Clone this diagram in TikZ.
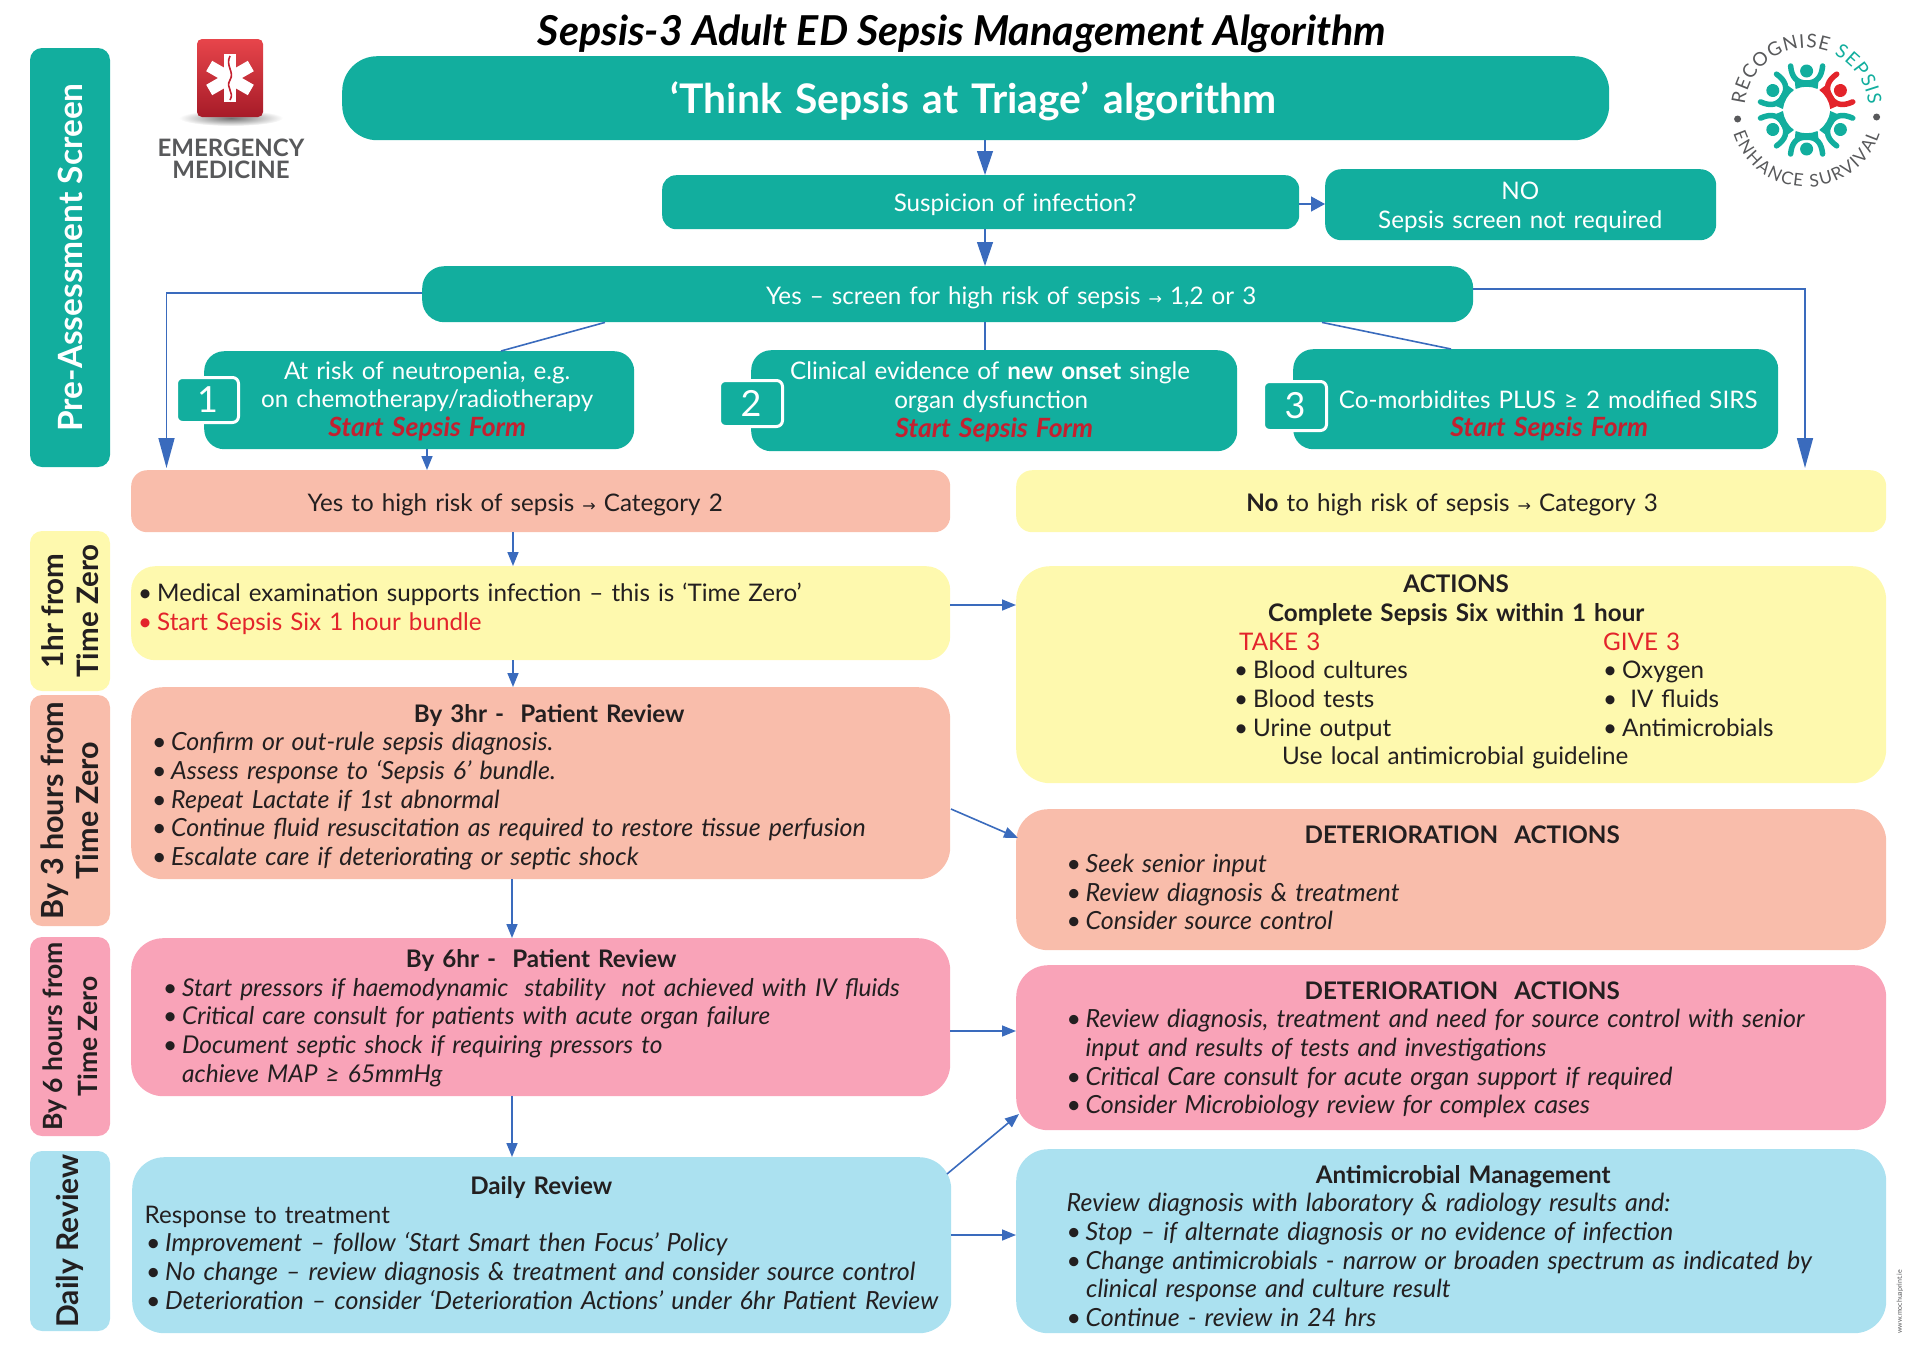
\documentclass[tikz,border=0pt]{standalone}
\usepackage{fontspec}
\setmainfont{Lato}
\newfontfamily\dvfont{DejaVu Sans}
\usetikzlibrary{arrows.meta,decorations.text,shapes.geometric}
\definecolor{sxteal}{HTML}{12AE9E}
\definecolor{sxsalmon}{HTML}{F9BDAB}
\definecolor{sxyellow}{HTML}{FEF9AE}
\definecolor{sxpink}{HTML}{F9A3B8}
\definecolor{sxblue}{HTML}{ABE1F0}
\definecolor{sxarrow}{HTML}{3A6BBD}
\definecolor{sxred}{HTML}{E3242B}
\definecolor{sxdred}{HTML}{C4202F}
\definecolor{sxink}{HTML}{231F20}
\definecolor{sxgray}{HTML}{58595B}
\newcommand\sxbody{\fontsize{24.2}{28.7}\selectfont}
\newcommand\sxit{\itshape\fontsize{25}{28.7}\selectfont}
\newcommand\sxitn{\itshape\fontsize{24.5}{28.7}\selectfont}
\newcommand\sxC[2]{\hspace*{#1pt}\makebox[0pt][c]{#2}}
\newcommand\sxL[2]{\hspace*{#1pt}\makebox[0pt][l]{#2}}
\newcommand\sxB[2]{\hspace*{#1pt}\makebox[0pt][l]{\makebox[19pt][l]{•}#2}}
\newcommand\sxto{{\dvfont\fontsize{16}{16}\selectfont→}}
\newcommand\sxup[1]{\par\vspace{#1pt}}
\newcommand\sxD[1]{\rule{0pt}{.72em}\\[\dimexpr 2\dimexpr #1pt\relax-\baselineskip\relax]}
\newcommand\sxform{{\bfseries\itshape\fontsize{26.5}{28.7}\selectfont\color{sxdred}Start Sepsis Form}}
\tikzset{
  tbox/.style={anchor=north west,inner sep=0pt,align=left,font=\sxbody,text=sxink},
  tealbox/.style={tbox,fill=sxteal,text=white},
  strip/.style={rotate=90,inner sep=0pt,align=center,font=\bfseries\fontsize{30}{35}\selectfont,text=sxink,rounded corners=12pt},
  tagbox/.style={fill=sxteal,draw=white,line width=3pt,rounded corners=6pt,text=white,inner sep=0pt,font=\fontsize{36}{36}\selectfont},
  arr/.style={draw=sxarrow,line width=1.6pt,-{Triangle[length=14pt,width=11pt]}},
  bigarr/.style={draw=sxarrow,line width=1.6pt,-{Triangle[length=30pt,width=16pt]}},
  medarr/.style={draw=sxarrow,line width=1.2pt,-{Triangle[length=24pt,width=16pt]}},
  plain/.style={draw=sxarrow,line width=1.6pt},
}
\newcommand\BX[7]{%
  \pgfmathsetmacro\bw{#5-#3}\pgfmathsetmacro\bh{#6-#4}%
  \node[#1,text width=\bw pt,minimum width=\bw pt,minimum height=\bh pt] (#2) at (#3,#4) {#7};}
\newcommand\STRIP[7]{%
  \pgfmathsetmacro\bw{#5-#3}\pgfmathsetmacro\bh{#6-#4}%
  \pgfmathsetmacro\bx{(#5+#3)/2}\pgfmathsetmacro\by{(#6+#4)/2}%
  \node[strip,#1,minimum width=\bh pt,minimum height=\bw pt] (#2) at (\bx,\by) {#7};}
\begin{document}
\begin{tikzpicture}[x=1pt,y=-1pt]
\useasboundingbox (0,0) rectangle (1920,1358);
% title
\node[inner sep=0pt,font=\bfseries\itshape\fontsize{41.2}{41}\selectfont,text=black] (title) at (962,34) {Sepsis-3 Adult ED Sepsis Management Algorithm};
% side strips
\STRIP{fill=sxteal,text=white,font=\bfseries\fontsize{33.4}{33}\selectfont}{sPre}{30}{48}{110}{467}{Pre-Assessment Screen}
\STRIP{fill=sxyellow,font=\bfseries\fontsize{29.5}{35}\selectfont}{sOne}{30}{531}{110}{691}{1hr from\\Time Zero}
\STRIP{fill=sxsalmon,font=\bfseries\fontsize{30.5}{35}\selectfont}{sThree}{30}{695}{110}{926}{By 3 hours from\\Time Zero}
\STRIP{fill=sxpink,font=\bfseries\fontsize{26.5}{35}\selectfont}{sSix}{30}{937}{110}{1136}{By 6 hours from\\Time Zero}
\STRIP{fill=sxblue,font=\bfseries\fontsize{30}{35}\selectfont}{sDaily}{30}{1151}{110}{1331}{Daily Review}
% teal flow
\BX{tealbox,rounded corners=35pt,font=\bfseries\fontsize{40.8}{41}\selectfont}{top}{342}{56}{1609}{140}{\sxD{4.5}\sxC{631.5}{‘Think Sepsis at Triage’ algorithm}}
\BX{tealbox,rounded corners=14pt}{sus}{662}{175}{1299}{229}{\sxD{2.4}\sxC{353}{Suspicion of infection?}}
\BX{tealbox,rounded corners=16pt}{no}{1325}{169}{1716}{240}{\sxD{2.4}\sxC{195}{NO}\\\sxC{195}{Sepsis screen not required}}
\BX{tealbox,rounded corners=22pt}{yes}{422}{266}{1473}{322}{\sxD{3.7}\sxC{589}{Yes – screen for high risk of sepsis \sxto{} 1,2 or 3}}
\BX{tealbox,rounded corners=20pt}{riskA}{204}{351}{634}{449}{\sxD{1.2}\sxC{223}{At risk of neutropenia, e.g.}\\\sxC{223}{on chemotherapy/radiotherapy}\\\sxC{223}{\sxform}}
\BX{tealbox,rounded corners=20pt}{riskB}{751}{350}{1237}{451}{\sxD{1.2}\sxC{239}{Clinical evidence of \textbf{new onset} single}\\\sxC{240}{organ dysfunction}\\\sxC{243}{\sxform}}
\BX{tealbox,rounded corners=20pt}{riskC}{1293}{349}{1778}{449}{\sxD{16.8}\sxC{255}{Co-morbidites PLUS ≥ 2 modified SIRS}\\\sxC{256}{\sxform}}
\node[tagbox,minimum width=62pt,minimum height=45pt,anchor=north west] (tagA) at (175,376) {1};
\node[tagbox,minimum width=63pt,minimum height=46pt,anchor=north west] (tagB) at (718,379) {2};
\node[tagbox,minimum width=63pt,minimum height=49pt,anchor=north west] (tagC) at (1262,380) {3};
% categories
\BX{tbox,fill=sxsalmon,rounded corners=16pt}{catTwo}{131}{470}{950}{532}{\sxD{3.7}\sxC{384}{Yes to high risk of sepsis \sxto{} Category 2}}
\BX{tbox,fill=sxyellow,rounded corners=16pt}{catThree}{1016}{470}{1886}{532}{\sxD{3.7}\sxC{436}{\textbf{No} to high risk of sepsis \sxto{} Category 3}}
% left column
\BX{tbox,fill=sxyellow,rounded corners=24pt}{oneHr}{131}{566}{950}{660}{\sxB{7}{Medical examination supports infection – this is ‘Time Zero’}\\{\color{sxred}\sxB{7}{Start Sepsis Six 1 hour bundle}}\sxup{8.6}}
\BX{tbox,fill=sxsalmon,rounded corners=32pt}{threeHr}{131}{687}{950}{879}{\sxD{4.2}\sxC{418}{\textbf{By 3hr -~~Patient Review}}\\\sxit\sxB{21}{Confirm or out-rule sepsis diagnosis.}\\\sxB{21}{Assess response to ‘Sepsis 6’ bundle.}\\\sxB{21}{Repeat Lactate if 1st abnormal}\\\sxB{21}{Continue fluid resuscitation as required to restore tissue perfusion}\\\sxB{21}{Escalate care if deteriorating or septic shock}}
\BX{tbox,fill=sxpink,rounded corners=32pt}{sixHr}{131}{938}{950}{1096}{\sxD{1.2}\sxC{410}{\textbf{By 6hr -~~Patient Review}}\\\sxitn\sxB{32}{Start pressors if haemodynamic~~stability~~not achieved with IV fluids}\\\sxB{32}{Critical care consult for patients with acute organ failure}\\\sxB{32}{Document septic shock if requiring pressors to}\\\sxL{51}{achieve MAP ≥ 65mmHg}}
\BX{tbox,fill=sxblue,rounded corners=32pt}{daily}{132}{1157}{951}{1333}{\sxC{409}{\textbf{Daily Review}}\\\sxL{12.5}{Response to treatment}\\\sxit\sxB{14}{Improvement – follow ‘Start Smart then Focus’ Policy}\\\sxB{14}{No change – review diagnosis \& treatment and consider source control}\\\sxB{14}{Deterioration – consider ‘Deterioration Actions’ under 6hr Patient Review}\sxup{4.8}}
% right column
\BX{tbox,fill=sxyellow,rounded corners=34pt}{actions}{1016}{566}{1886}{783}{\sxC{440}{\textbf{ACTIONS}}\\\sxC{440}{\textbf{Complete Sepsis Six within 1 hour}}\\{\color{sxred}\sxL{223}{TAKE 3}\sxL{364}{GIVE 3}}\\\sxB{218}{Blood cultures}\sxB{369}{Oxygen}\\\sxB{218}{Blood tests}\sxB{369}{~IV fluids}\\\sxB{218}{Urine output}\sxB{369}{Antimicrobials}\\\sxL{266}{Use local antimicrobial guideline}\sxup{5}}
\BX{tbox,fill=sxsalmon,rounded corners=32pt}{detA}{1016}{809}{1886}{950}{\sxC{446}{\textbf{DETERIORATION~~ACTIONS}}\\\sxit\sxB{50.5}{Seek senior input}\\\sxB{50.5}{Review diagnosis \& treatment}\\\sxB{50.5}{Consider source control}\sxup{3.5}}
\BX{tbox,fill=sxpink,rounded corners=32pt}{detB}{1016}{965}{1886}{1130}{\sxD{2.4}\sxC{446}{\textbf{DETERIORATION~~ACTIONS}}\\\sxit\sxB{50.5}{Review diagnosis, treatment and need for source control with senior}\\\sxL{69.5}{input and results of tests and investigations}\\\sxB{50.5}{Critical Care consult for acute organ support if required}\\\sxB{50.5}{Consider Microbiology review for complex cases}}
\BX{tbox,fill=sxblue,rounded corners=32pt}{anti}{1016}{1149}{1886}{1333}{\sxD{5}\sxC{447}{\textbf{Antimicrobial Management}}\\\sxit\sxL{50.5}{Review diagnosis with laboratory \& radiology results and:}\\\sxB{50.5}{Stop – if alternate diagnosis or no evidence of infection}\\\sxB{50.5}{Change antimicrobials - narrow or broaden spectrum as indicated by}\\\sxL{70}{clinical response and culture result}\\\sxB{50.5}{Continue - review in 24 hrs}}
% helper coordinates
\coordinate (xMid) at (985,0);
\coordinate (xA) at (427,0);
\coordinate (xB) at (513,0);
\coordinate (xC) at (512,0);
\coordinate (dA) at (605,0);
\coordinate (dB) at (501,0);
\coordinate (dC) at (1322,0);
\coordinate (dD) at (1451,0);
\coordinate (yNo) at (0,204);
\coordinate (yL) at (0,293);
\coordinate (yR) at (0,289);
\coordinate (yOne) at (0,605);
\coordinate (ySix) at (0,1031);
\coordinate (yDaily) at (0,1235);
\coordinate (pA) at (951,809);
\coordinate (pB) at (1018,838);
\coordinate (pC) at (947,1174);
\coordinate (pD) at (1019,1114);
\coordinate (endL) at (166.5,468);
\coordinate (endR) at (1805,468);
% connectors
\draw[medarr] (top.south -| xMid) -- (sus.north -| xMid);
\draw[draw=sxarrow,line width=1.4pt,-{Triangle[length=14pt,width=15pt]}] (sus.east |- yNo) -- (no.west |- yNo);
\draw[medarr] (sus.south -| xMid) -- (yes.north -| xMid);
\draw[bigarr] (yes.west |- yL) -| (endL);
\draw[bigarr] (yes.east |- yR) -| (endR);
\draw[plain] (yes.south -| dA) -- (riskA.north -| dB);
\draw[plain] (yes.south -| xMid) -- (riskB.north -| xMid);
\draw[plain] (yes.south -| dC) -- (riskC.north -| dD);
\draw[arr] (riskA.south -| xA) -- (catTwo.north -| xA);
\draw[arr] (catTwo.south -| xB) -- (oneHr.north -| xB);
\draw[arr] (oneHr.south -| xB) -- (threeHr.north -| xB);
\draw[arr] (oneHr.east |- yOne) -- (actions.west |- yOne);
\draw[arr] (pA) -- (pB);
\draw[arr] (threeHr.south -| xC) -- (sixHr.north -| xC);
\draw[arr] (sixHr.east |- ySix) -- (detB.west |- ySix);
\draw[arr] (sixHr.south -| xC) -- (daily.north -| xC);
\draw[arr] (pC) -- (pD);
\draw[arr] (daily.east |- yDaily) -- (anti.west |- yDaily);
% emergency medicine logo
\shade[inner color=black!55,outer color=white] (231,118) ellipse[x radius=52,y radius=8];
\shade[top color=sxred!85!white,bottom color=sxdred!85!black,rounded corners=5pt] (197,39) rectangle (263,117);
\begin{scope}[shift={(230,78)},y=1pt]
\foreach \a in {90,30,150}{
  \draw[white,line width=12pt,rotate=\a] (-24,0) -- (24,0);
}
\draw[sxdred,line width=1.6pt] (0,22) .. controls (-5,12) and (5,6) .. (0,-2) .. controls (-5,-10) and (5,-14) .. (0,-22);
\end{scope}
\node[inner sep=0pt,align=center,font=\bfseries\fontsize{24}{22.5}\selectfont,text=sxgray] (emLabel) at (231,159) {EMERGENCY\\MEDICINE};
% recognise sepsis logo
\begin{scope}[shift={(1806.6,110)},y=1pt]
\path[decorate,decoration={text along path,text align={fit to path},text={|\fontsize{19}{19}\selectfont\color{sxgray}|RECOGNISE |\fontsize{19}{19}\selectfont\color{sxteal}|SEPSIS}}] (175:62) arc[start angle=175,end angle=5,radius=62];
\path[decorate,decoration={text along path,text align={fit to path},text={|\fontsize{17.5}{17.5}\selectfont\color{sxgray}|ENHANCE SURVIVAL}}] (198:77) arc[start angle=198,end angle=342,radius=77];
\fill[sxgray] (-69,-9) circle[radius=3.5];
\fill[sxgray] (70,-7) circle[radius=3.5];
\foreach \a/\c in {0/sxteal,-60/sxred,-120/sxteal,180/sxteal,120/sxteal,60/sxteal}{
  \begin{scope}[rotate=\a]
  \fill[\c] (0,39) circle[radius=6.5];
  \draw[\c,line width=5.5pt,line cap=round] (-16,44) .. controls (-15,33) and (-10,27) .. (0,27) .. controls (10,27) and (15,33) .. (16,44);
  \fill[\c] (-12,30) -- (12,30) -- (11,21) .. controls (4,24) and (-4,24) .. (-11,21) -- cycle;
  \end{scope}
}
\end{scope}
\node[rotate=90,inner sep=0pt,font=\fontsize{7}{7}\selectfont,text=sxgray] (credit) at (1900,1302) {www.mochuaprint.ie};
\end{tikzpicture}
\end{document}
